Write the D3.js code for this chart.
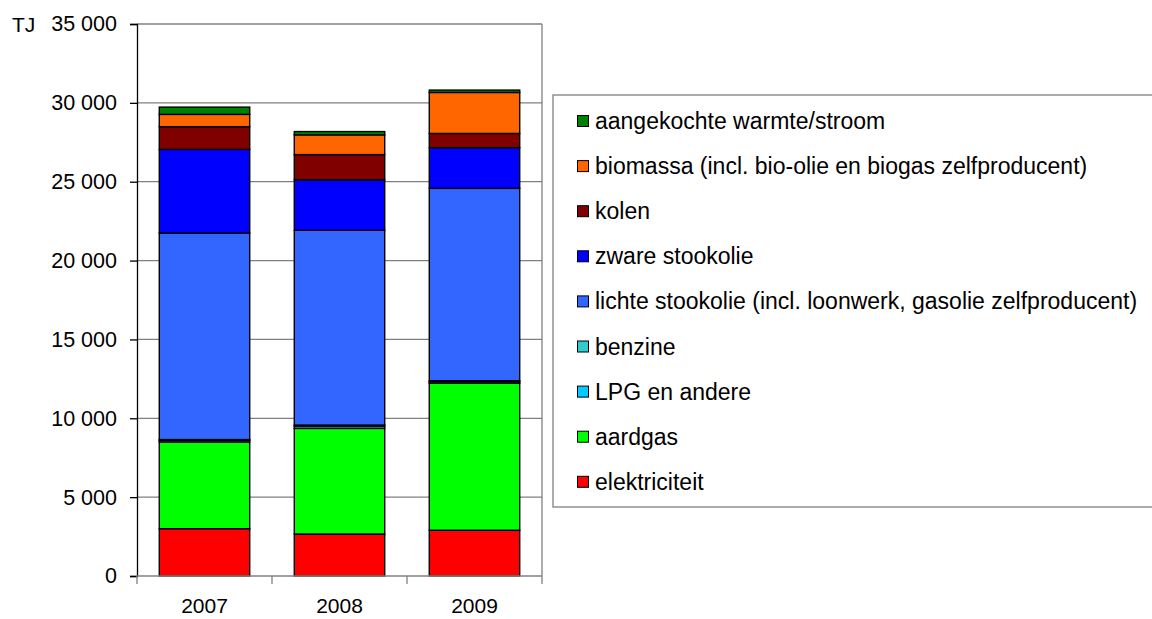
<!DOCTYPE html>
<html>
<head>
<meta charset="utf-8">
<script src="https://cdn.jsdelivr.net/npm/d3@7"></script>
<style>
  html, body { margin: 0; padding: 0; background: #fff; }
  svg { display: block; font-family: "Liberation Sans", Arial, sans-serif; }
</style>
</head>
<body>
<svg id="chart" width="1152" height="619"></svg>
<script>
// Energy use per carrier, TJ
const years = ["2007", "2008", "2009"];

const elektriciteit = [3000, 2660, 2900];
const aardgas       = [5500, 6700, 9320];
const lpg           = [100, 130, 100];
const benzine       = [50, 80, 60];
const lichteStook   = [13100, 12350, 12200];
const zwareStook    = [5300, 3200, 2580];
const kolen         = [1440, 1600, 900];
const biomassa      = [780, 1250, 2600];
const aangekocht    = [460, 210, 150];

const seriesNames = [
  "elektriciteit",
  "aardgas",
  "LPG en andere",
  "benzine",
  "lichte stookolie (incl. loonwerk, gasolie zelfproducent)",
  "zware stookolie",
  "kolen",
  "biomassa (incl. bio-olie en biogas zelfproducent)",
  "aangekochte warmte/stroom"
];
const seriesValues = [elektriciteit, aardgas, lpg, benzine, lichteStook, zwareStook, kolen, biomassa, aangekocht];
const seriesColors = ["#FF0000", "#00FF00", "#00CCFF", "#33CCCC", "#3366FF", "#0000FF", "#800000", "#FF6600", "#008000"];

const yTicks = [0, 5000, 10000, 15000, 20000, 25000, 30000, 35000];

// Build a table for d3.stack
const table = years.map((y, i) => {
  const row = { year: y };
  seriesNames.forEach((n, k) => { row[n] = seriesValues[k][i]; });
  return row;
});

const svg = d3.select("#chart");
const plot = { left: 137, right: 542, top: 24, bottom: 576 };

const x = d3.scaleBand().domain(years).range([plot.left, plot.right])
  .paddingInner(0.33).paddingOuter(0.165);
const y = d3.scaleLinear().domain([0, 35000]).range([plot.bottom, plot.top]);

const fmt = d3.formatLocale({ decimal: ",", thousands: " ", grouping: [3], currency: ["", ""] }).format(",d");

// Gridlines
svg.append("g").selectAll("line").data(yTicks.filter(t => t > 0)).join("line")
  .attr("x1", plot.left).attr("x2", plot.right)
  .attr("y1", d => y(d)).attr("y2", d => y(d))
  .attr("stroke", "#808080").attr("stroke-width", 1.3);

// Right edge of plot area
svg.append("line")
  .attr("x1", plot.right).attr("x2", plot.right)
  .attr("y1", plot.top).attr("y2", plot.bottom)
  .attr("stroke", "#808080").attr("stroke-width", 1.3);

// Stacked bars
const stack = d3.stack().keys(seriesNames)(table);
const layers = svg.append("g").selectAll("g").data(stack).join("g")
  .attr("fill", (d, i) => seriesColors[i]);
layers.selectAll("rect").data(d => d).join("rect")
  .attr("x", d => x(d.data.year))
  .attr("width", x.bandwidth())
  .attr("y", d => y(d[1]))
  .attr("height", d => y(d[0]) - y(d[1]))
  .attr("stroke", "#000").attr("stroke-width", 1.4);

// Y axis
const yAxis = svg.append("g").attr("transform", `translate(${plot.left},0)`)
  .call(d3.axisLeft(y).tickValues(yTicks).tickFormat(fmt).tickSize(7).tickPadding(13));
yAxis.select(".domain").attr("stroke", "#000").attr("stroke-width", 1.3);
yAxis.selectAll(".tick line").attr("stroke", "#000").attr("stroke-width", 1.3);
yAxis.selectAll(".tick text").attr("font-size", 21.5).attr("fill", "#000")
  .attr("font-family", "Liberation Sans, Arial, sans-serif");

// X axis with ticks between categories
const xAxisG = svg.append("g");
xAxisG.append("line")
  .attr("x1", plot.left).attr("x2", plot.right)
  .attr("y1", plot.bottom).attr("y2", plot.bottom)
  .attr("stroke", "#808080").attr("stroke-width", 1.3);
const bounds = years.map(yr => x(yr) - x.step() * x.paddingInner() / 2);
bounds[0] = plot.left;
bounds.push(plot.right);
xAxisG.selectAll("line.tk").data(bounds).join("line").attr("class", "tk")
  .attr("x1", d => d).attr("x2", d => d)
  .attr("y1", plot.bottom).attr("y2", plot.bottom + 8)
  .attr("stroke", "#808080").attr("stroke-width", 1.3);
xAxisG.selectAll("text").data(years).join("text")
  .attr("x", d => x(d) + x.bandwidth() / 2)
  .attr("y", 613)
  .attr("text-anchor", "middle")
  .attr("font-size", 21)
  .text(d => d);

// Unit label
svg.append("text").attr("x", 12).attr("y", 32).attr("font-size", 21).text("TJ");

// Legend
const legend = svg.append("g");
legend.append("rect")
  .attr("x", 553).attr("y", 95).attr("width", 620).attr("height", 412)
  .attr("fill", "#fff").attr("stroke", "#808080").attr("stroke-width", 1.3);
const legendOrder = seriesNames.map((n, i) => i).reverse();
const items = legend.selectAll("g.item").data(legendOrder).join("g").attr("class", "item")
  .attr("transform", (d, i) => `translate(0, ${121 + i * 45.1})`);
items.append("rect")
  .attr("x", 577.5).attr("y", -5.5).attr("width", 11).attr("height", 11)
  .attr("fill", d => seriesColors[d]).attr("stroke", "#000").attr("stroke-width", 1);
items.append("text")
  .attr("x", 595).attr("y", 8)
  .attr("font-size", 23)
  .text(d => seriesNames[d]);
</script>
</body>
</html>
